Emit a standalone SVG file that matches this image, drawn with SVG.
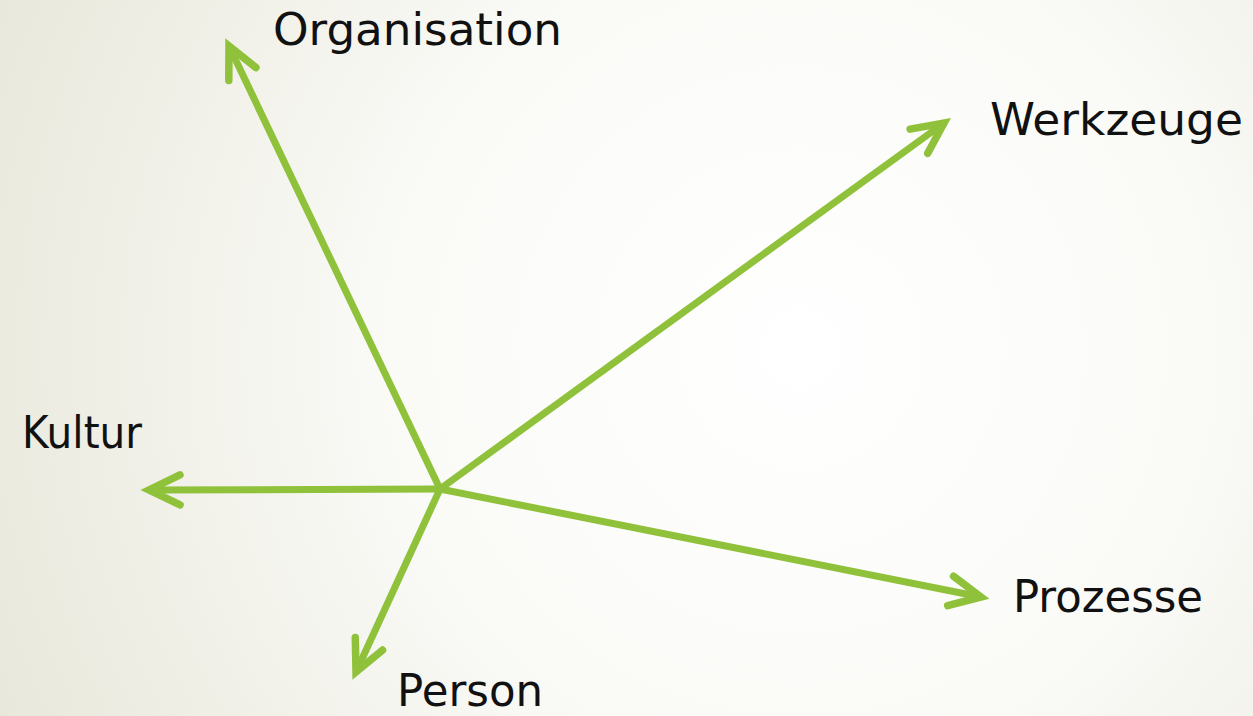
<svg xmlns="http://www.w3.org/2000/svg" width="1253" height="716" viewBox="0 0 1253 716">
<defs>
<radialGradient id="bg" gradientUnits="userSpaceOnUse" cx="800" cy="350" r="900">
<stop offset="0" stop-color="#ffffff"/>
<stop offset="0.45" stop-color="#fafaf7"/>
<stop offset="1" stop-color="#e8e7da"/>
</radialGradient>
<marker id="arr" markerUnits="userSpaceOnUse" markerWidth="60" markerHeight="60" viewBox="-45 -30 60 60" refX="0" refY="0" orient="auto">
<path d="M-31,-15 L0,0 L-31,15" fill="none" stroke="#8fc13a" stroke-width="7.5" stroke-linecap="round" stroke-linejoin="miter" stroke-miterlimit="10"/>
</marker>
<style>
.c{stroke:#8fc13a;stroke-width:7;fill:none;stroke-linecap:butt}
.t{font-family:"DejaVu Sans","Liberation Sans",sans-serif;font-size:44px;fill:#111}
</style>
</defs>
<rect width="1253" height="716" fill="url(#bg)"/>
<g id="connectors">
<line class="c" x1="440" y1="489" x2="229" y2="46" marker-end="url(#arr)"/>
<line class="c" x1="440" y1="489" x2="944" y2="123" marker-end="url(#arr)"/>
<line class="c" x1="440" y1="489" x2="149" y2="490" marker-end="url(#arr)"/>
<line class="c" x1="440" y1="489" x2="981" y2="597" marker-end="url(#arr)"/>
<line class="c" x1="440" y1="489" x2="356" y2="672" marker-end="url(#arr)"/>
</g>
<g id="organisation"><text class="t" x="273" y="45" textLength="289" lengthAdjust="spacingAndGlyphs">Organisation</text></g>
<g id="werkzeuge"><text class="t" x="990" y="135" textLength="253" lengthAdjust="spacingAndGlyphs">Werkzeuge</text></g>
<g id="kultur"><text class="t" x="22" y="448" textLength="120" lengthAdjust="spacingAndGlyphs">Kultur</text></g>
<g id="prozesse"><text class="t" x="1013" y="612" textLength="190" lengthAdjust="spacingAndGlyphs">Prozesse</text></g>
<g id="person"><text class="t" x="397" y="706" textLength="146" lengthAdjust="spacingAndGlyphs">Person</text></g>
</svg>
